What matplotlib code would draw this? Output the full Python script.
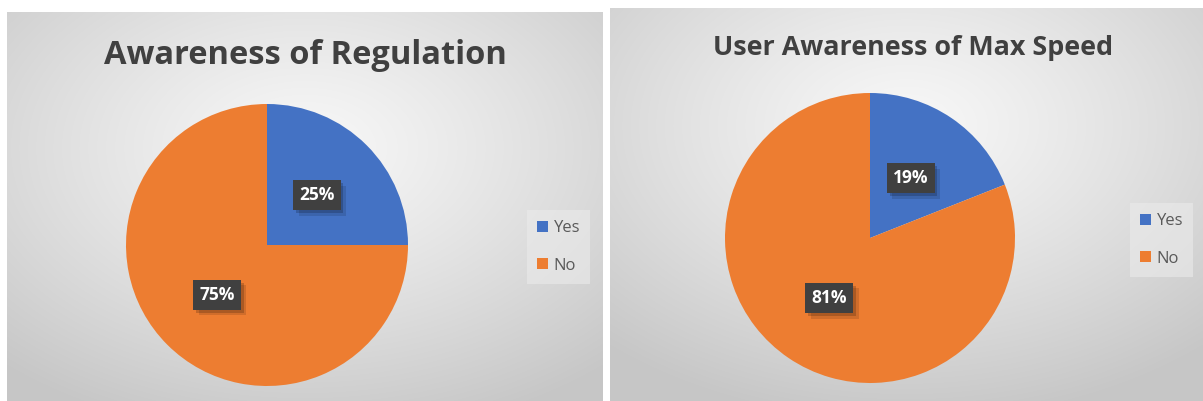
import numpy as np
import matplotlib
matplotlib.use("Agg")
import matplotlib.pyplot as plt
from matplotlib.patches import Patch
import matplotlib.patheffects as pe

titles = ["Awareness of Regulation", "User Awareness of Max Speed"]
categories = ["Yes", "No"]
values_left = [25, 75]
values_right = [19, 81]
colors = ["#4472C4", "#ED7D31"]

W, H = 1203, 401
fig = plt.figure(figsize=(W / 100, H / 100), dpi=100)
fig.patch.set_facecolor("white")


def px_axes(x0, y0, x1, y1, **kw):
    return fig.add_axes([x0 / W, (H - y1) / H, (x1 - x0) / W, (y1 - y0) / H], **kw)


def background(x0, y0, x1, y1, cx, cy):
    ax = px_axes(x0, y0, x1, y1)
    nx, ny = int(x1 - x0), int(y1 - y0)
    xx, yy = np.meshgrid(np.linspace(0, 1, nx), np.linspace(0, 1, ny))
    d = np.sqrt(((xx - cx) / 0.75) ** 2 + ((yy - cy) / 0.75) ** 2)
    d = np.clip(d, 0, 1)
    val = 0.97 - 0.19 * d ** 1.2
    img = np.dstack([val, val, val])
    ax.imshow(img, aspect="auto", extent=[0, 1, 0, 1], origin="upper")
    ax.set_axis_off()
    return ax


background(7, 12, 602, 401, 0.5, 0.35)
background(610, 8, 1203, 401, 0.5, 0.3)

font = ["Open Sans", "DejaVu Sans"]


def draw_pie(values, cx, cy, r, title, tx, ty, tsize, legx, legy):
    ax = px_axes(cx - r, cy - r, cx + r, cy + r)
    ax.pie(values, colors=colors, startangle=90, counterclock=False,
           radius=1.0, wedgeprops=dict(linewidth=0))
    ax.set_xlim(-1, 1)
    ax.set_ylim(-1, 1)
    ax.set_aspect("equal")
    ax.set_axis_off()
    total = sum(values)
    start = 90.0
    for v in values:
        ang = start - 360.0 * v / total / 2
        start -= 360.0 * v / total
        x = 0.5 * np.cos(np.radians(ang))
        y = 0.5 * np.sin(np.radians(ang))
        label = f"{round(100 * v / total)}%"
        t = ax.text(x, y, label, ha="center", va="center", fontsize=12.5,
                    fontweight="bold", color="white", family=font,
                    bbox=dict(boxstyle="square,pad=0.35", fc="#404040", ec="none"))
        t.get_bbox_patch().set_path_effects(
            [pe.SimplePatchShadow(offset=(4, -4), shadow_rgbFace="black", alpha=0.12),
             pe.SimplePatchShadow(offset=(2, -2), shadow_rgbFace="black", alpha=0.18),
             pe.Normal()])
    fig.text(tx / W, 1 - ty / H, title, ha="center", va="center",
             fontsize=tsize, fontweight="bold", color="#404040", family=font)
    handles = [Patch(facecolor=c, edgecolor="none") for c in colors]
    leg = fig.legend(handles, categories, loc="upper left",
                     bbox_to_anchor=(legx / W, 1 - legy / H), frameon=True,
                     prop=dict(family=font, size=12), labelcolor="#595959",
                     handlelength=0.65, handleheight=0.65, handletextpad=0.35,
                     labelspacing=1.3, borderpad=0.6, borderaxespad=0,
                     fancybox=False)
    leg.get_frame().set_facecolor("#ebebeb")
    leg.get_frame().set_edgecolor("none")
    leg.get_frame().set_alpha(0.6)


draw_pie(values_left, 267, 245, 141, titles[0], 305, 55, 23.5, 527, 210)
draw_pie(values_right, 870, 238, 145, titles[1], 913, 48, 19.4, 1130, 203)

fig.savefig("out.png", dpi=100)
